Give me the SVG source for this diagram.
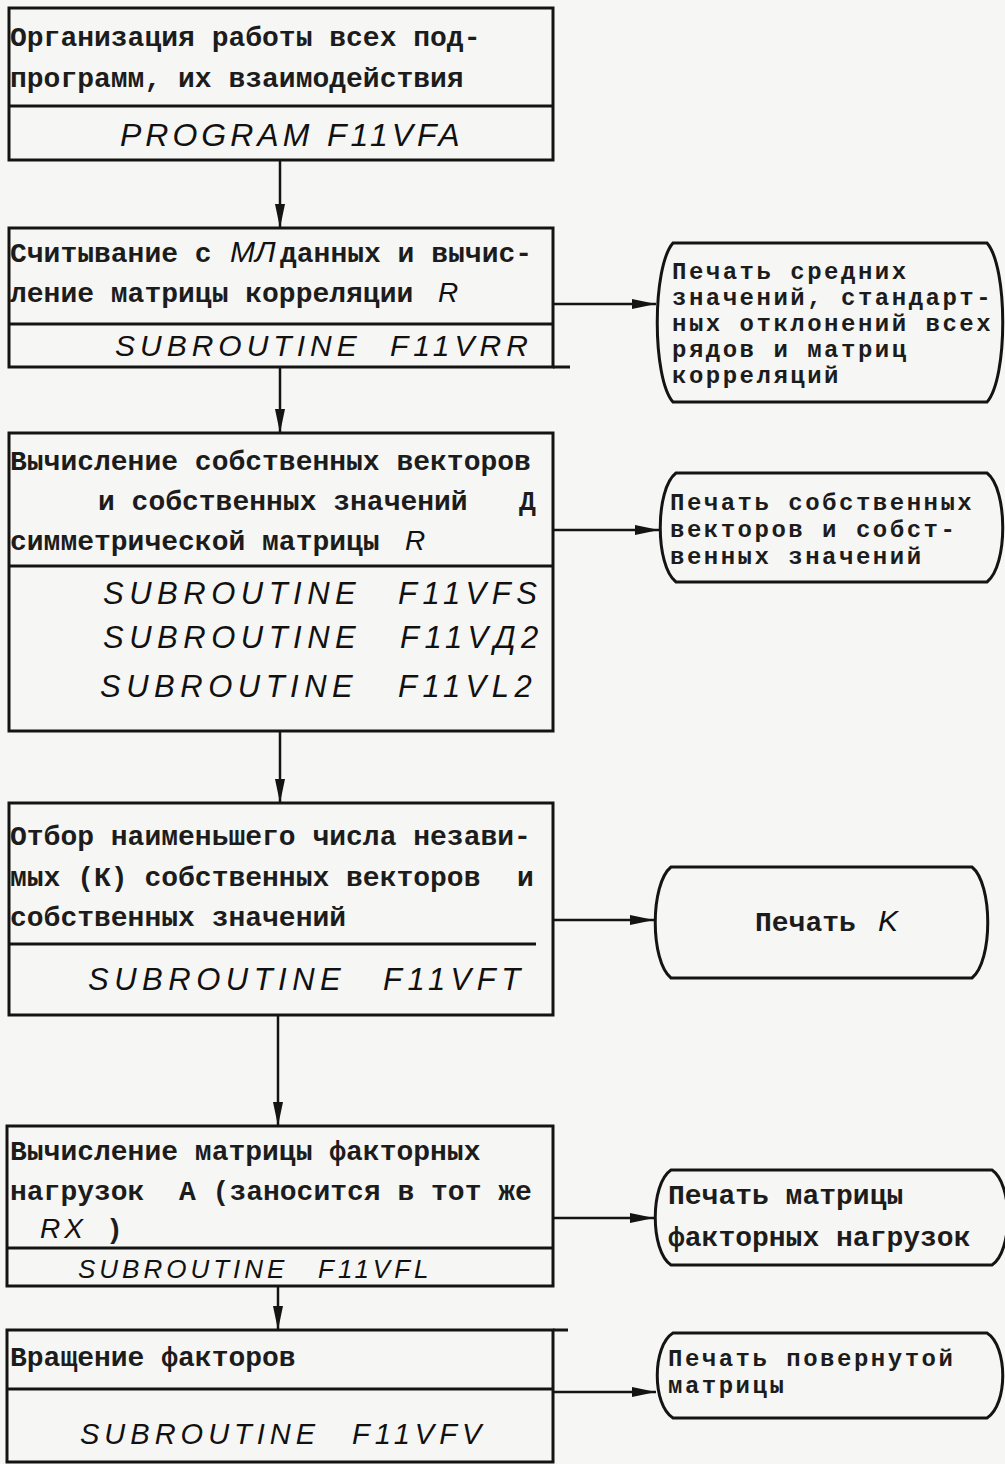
<svg xmlns="http://www.w3.org/2000/svg" width="1005" height="1464" viewBox="0 0 1005 1464">
<style>
.box{fill:none;stroke:#141414;stroke-width:3}
.term{fill:none;stroke:#141414;stroke-width:3}
.ln{fill:none;stroke:#141414;stroke-width:2.5}
.tw{font-family:"Liberation Mono","DejaVu Sans Mono",monospace;font-weight:bold;font-size:28px;fill:#1c1c1c}
.tws{font-size:24px;letter-spacing:2.5px}
.hw{font-family:"Liberation Sans","DejaVu Sans",sans-serif;font-style:italic;font-weight:normal;fill:#111}
.s30{font-size:30px;letter-spacing:5px}
.s31{font-size:31px;letter-spacing:5.5px}
.s26{font-size:26px;letter-spacing:4px}
.s29{font-size:29px;letter-spacing:5px}
.s32{font-size:32px;letter-spacing:4px}
</style>
<defs>
<marker id="ah" markerUnits="userSpaceOnUse" markerWidth="26" markerHeight="12" refX="24" refY="6" orient="auto">
<path d="M0,1 L24,6 L0,11 Z" fill="#141414"/>
</marker>
</defs>
<rect width="1005" height="1464" fill="#f6f6f4"/>

<g id="n1">
<rect class="box" x="9" y="8" width="544" height="152"/>
<line class="box" x1="9" y1="106" x2="553" y2="106"/>
<text class="tw" x="10" y="46">Организация работы всех под-</text>
<text class="tw" x="10" y="87">программ, их взаимодействия</text>
<text class="hw s32" y="146"><tspan x="120">PROGRAM</tspan> <tspan x="327">F11VFA</tspan></text>
</g>

<g id="n2">
<rect class="box" x="9" y="228" width="544" height="139"/>
<line class="box" x1="9" y1="324" x2="553" y2="324"/>
<line class="box" x1="553" y1="367" x2="570" y2="367"/>
<text class="tw" x="10" y="262">Считывание с <tspan class="hw" style="font-size:30px;font-weight:normal" x="230">МЛ </tspan><tspan x="280">данных и вычис-</tspan></text>
<text class="tw" x="10" y="302">ление матрицы корреляции <tspan class="hw" style="font-size:28px;font-weight:normal" x="438">R</tspan></text>
<text class="hw s30" y="356"><tspan x="115">SUBROUTINE</tspan> <tspan x="390">F11VRR</tspan></text>
</g>

<g id="n3">
<rect class="box" x="9" y="433" width="544" height="298"/>
<line class="box" x1="9" y1="566" x2="553" y2="566"/>
<text class="tw" x="10" y="470">Вычисление собственных векторов</text>
<text class="tw" x="98" y="510">и собственных значений <tspan x="519">Д</tspan></text>
<text class="tw" x="10" y="550">симметрической матрицы <tspan class="hw" style="font-size:28px;font-weight:normal" x="405">R</tspan></text>
<text class="hw s31" y="604"><tspan x="103">SUBROUTINE</tspan> <tspan x="398">F11VFS</tspan></text>
<text class="hw s31" y="648"><tspan x="103">SUBROUTINE</tspan> <tspan x="400">F11VД2</tspan></text>
<text class="hw s31" y="697"><tspan x="100">SUBROUTINE</tspan> <tspan x="398">F11VL2</tspan></text>
</g>

<g id="n4">
<rect class="box" x="9" y="803" width="544" height="212"/>
<line class="box" x1="9" y1="944" x2="536" y2="944"/>
<text class="tw" x="10" y="845">Отбор наименьшего числа незави-</text>
<text class="tw" x="10" y="886">мых (К) собственных векторов <tspan x="517">и</tspan></text>
<text class="tw" x="10" y="926">собственных значений</text>
<text class="hw s31" y="990"><tspan x="88">SUBROUTINE</tspan> <tspan x="383">F11VFT</tspan></text>
</g>

<g id="n5">
<rect class="box" x="7" y="1126" width="546" height="160"/>
<line class="box" x1="7" y1="1248" x2="553" y2="1248"/>
<text class="tw" x="10" y="1160">Вычисление матрицы факторных</text>
<text class="tw" x="10" y="1200">нагрузок <tspan x="179">А (заносится в тот же</tspan></text>
<text class="tw" y="1238"><tspan class="hw" style="font-size:28px;font-weight:normal;letter-spacing:4px" x="40">RX</tspan> <tspan x="106">)</tspan></text>
<text class="hw s26" y="1278"><tspan x="78">SUBROUTINE</tspan> <tspan x="318">F11VFL</tspan></text>
</g>

<g id="n6">
<rect class="box" x="7" y="1330" width="546" height="132"/>
<line class="box" x1="7" y1="1389" x2="553" y2="1389"/>
<line class="box" x1="553" y1="1330" x2="568" y2="1330"/>
<text class="tw" x="10" y="1366">Вращение факторов</text>
<text class="hw s29" y="1444"><tspan x="80">SUBROUTINE</tspan> <tspan x="352">F11VFV</tspan></text>
</g>

<g id="p1">
<path class="term" d="M673,243 H987 C1008,267 1008,378 987,402 H673 C652,378 652,267 673,243 Z"/>
<text class="tw tws" x="672" y="279">Печать средних</text>
<text class="tw tws" x="672" y="305">значений, стандарт-</text>
<text class="tw tws" x="672" y="331">ных отклонений всех</text>
<text class="tw tws" x="672" y="357">рядов и матриц</text>
<text class="tw tws" x="672" y="383">корреляций</text>
</g>

<g id="p2">
<path class="term" d="M676,473 H987 C1008,489 1008,566 987,582 H676 C655,566 655,489 676,473 Z"/>
<text class="tw tws" x="670" y="510">Печать собственных</text>
<text class="tw tws" x="670" y="537">векторов и собст-</text>
<text class="tw tws" x="670" y="564">венных значений</text>
</g>

<g id="p3">
<path class="term" d="M671,867 H972 C993,884 993,961 972,978 H671 C650,961 650,884 671,867 Z"/>
<text class="tw" x="755" y="931">Печать <tspan class="hw" style="font-size:30px;font-weight:normal" x="878">K</tspan></text>
</g>

<g id="p4">
<path class="term" d="M671,1170 H992 C1013,1184 1013,1251 992,1265 H671 C650,1251 650,1184 671,1170 Z"/>
<text class="tw" x="668" y="1204">Печать матрицы</text>
<text class="tw" x="668" y="1246">факторных нагрузок</text>
</g>

<g id="p5">
<path class="term" d="M673,1333 H987 C1008,1346 1008,1405 987,1418 H673 C652,1405 652,1346 673,1333 Z"/>
<text class="tw tws" x="668" y="1366">Печать повернутой</text>
<text class="tw tws" x="668" y="1393">матрицы</text>
</g>

<g id="connectors">
<line class="ln" x1="280" y1="160" x2="280" y2="228" marker-end="url(#ah)"/>
<line class="ln" x1="280" y1="367" x2="280" y2="433" marker-end="url(#ah)"/>
<line class="ln" x1="280" y1="731" x2="280" y2="803" marker-end="url(#ah)"/>
<line class="ln" x1="278" y1="1015" x2="278" y2="1126" marker-end="url(#ah)"/>
<line class="ln" x1="278" y1="1286" x2="278" y2="1330" marker-end="url(#ah)"/>
<line class="ln" x1="553" y1="304" x2="656" y2="304" marker-end="url(#ah)"/>
<line class="ln" x1="553" y1="530" x2="659" y2="530" marker-end="url(#ah)"/>
<line class="ln" x1="553" y1="920" x2="654" y2="920" marker-end="url(#ah)"/>
<line class="ln" x1="553" y1="1218" x2="654" y2="1218" marker-end="url(#ah)"/>
<line class="ln" x1="553" y1="1392" x2="656" y2="1392" marker-end="url(#ah)"/>
</g>
</svg>
